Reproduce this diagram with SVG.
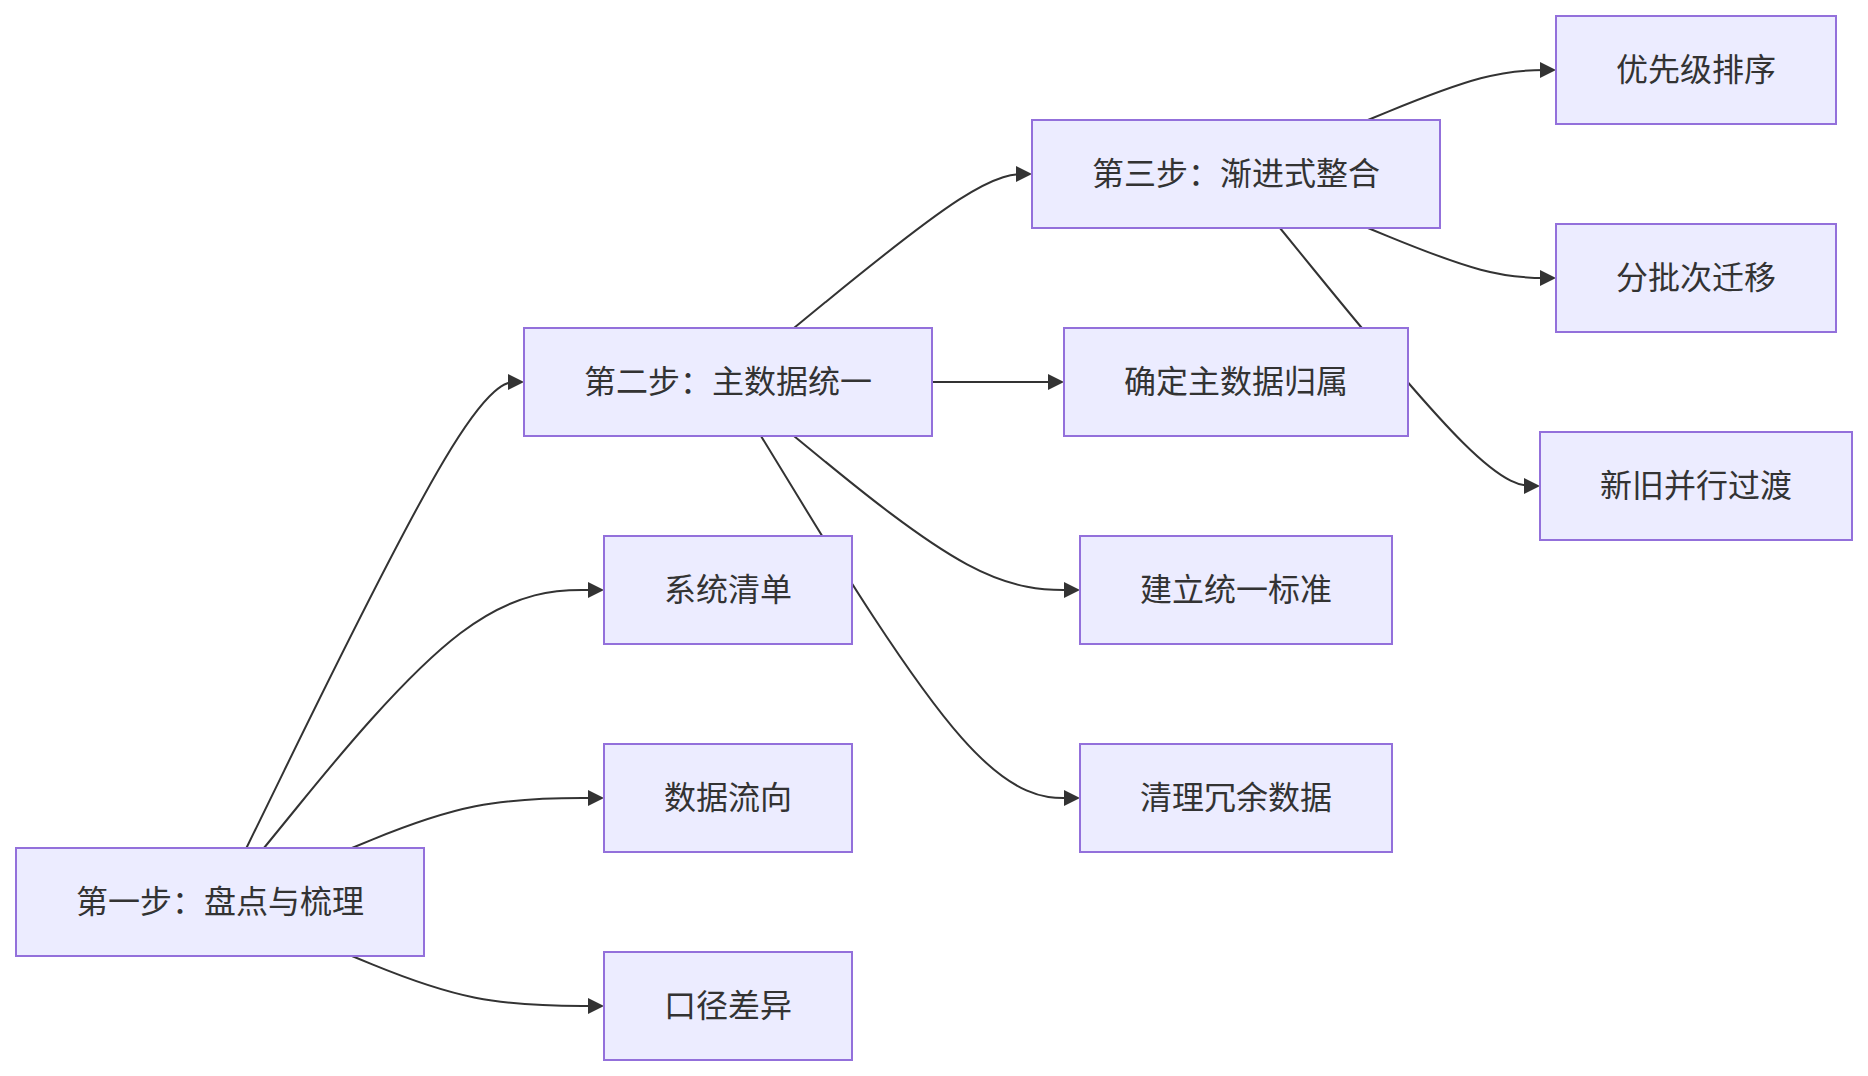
<svg xmlns="http://www.w3.org/2000/svg" width="1868" height="1076" viewBox="0 0 1868 1076">
<style>
.node rect{fill:#ECECFF;stroke:#9370DB;stroke-width:2}
.node text{font-family:"Noto Sans CJK SC","Noto Sans",sans-serif;font-size:32px;fill:#333333;text-anchor:middle;dominant-baseline:central}
.edge{fill:none;stroke:#333333;stroke-width:2}
</style>
<defs>
<marker id="arrow" viewBox="0 0 10 10" refX="8.75" refY="5" markerUnits="userSpaceOnUse" markerWidth="16" markerHeight="16" orient="auto">
<path d="M0,0 L10,5 L0,10 z" fill="#333333"/>
</marker>
</defs>
<rect x="0" y="0" width="1868" height="1076" fill="#ffffff"/>
<g id="connectors">
<path class="edge" marker-end="url(#arrow)" d="M246.4,848 L284.33,770.33 C322.27,692.67 398.13,537.33 444.4,459.67 C490.67,382 507.33,382 515.67,382 L522,382"/>
<path class="edge" marker-end="url(#arrow)" d="M263.96,848 L298.97,805 C333.97,762 403.99,676 460.66,633 C517.33,590 560.67,590 582.33,590 L602,590"/>
<path class="edge" marker-end="url(#arrow)" d="M351.92,848 L372.27,839.67 C392.61,831.33 433.31,814.67 475.32,806.33 C517.33,798 560.67,798 582.33,798 L602,798"/>
<path class="edge" marker-end="url(#arrow)" d="M351.92,956 L372.27,964.33 C392.61,972.67 433.31,989.33 475.32,997.67 C517.33,1006 560.67,1006 582.33,1006 L602,1006"/>
<path class="edge" marker-end="url(#arrow)" d="M793.94,328 L825.28,302.33 C856.63,276.67 919.31,225.33 958.99,199.67 C998.67,174 1015.33,174 1023.67,174 L1030,174"/>
<path class="edge" marker-end="url(#arrow)" d="M932,382 L1062,382"/>
<path class="edge" marker-end="url(#arrow)" d="M793.94,436 L825.28,461.67 C856.63,487.33 919.31,538.67 966.99,564.33 C1014.67,590 1047.33,590 1063.67,590 L1078,590"/>
<path class="edge" marker-end="url(#arrow)" d="M760.97,436 L797.81,496.33 C834.65,556.67 908.32,677.33 961.5,737.67 C1014.67,798 1047.33,798 1063.67,798 L1078,798"/>
<path class="edge" marker-end="url(#arrow)" d="M1367.92,120 L1388.27,111.67 C1408.61,103.33 1449.31,86.67 1480.65,78.33 C1512,70 1534,70 1545,70 L1554,70"/>
<path class="edge" marker-end="url(#arrow)" d="M1367.92,228 L1388.27,236.33 C1408.61,244.67 1449.31,261.33 1480.65,269.67 C1512,278 1534,278 1545,278 L1554,278"/>
<path class="edge" marker-end="url(#arrow)" d="M1279.96,228 L1314.97,271 C1349.97,314 1419.99,400 1463.33,443 C1506.67,486 1523.33,486 1531.67,486 L1538,486"/>
</g>
<g id="step1" class="node"><rect x="16" y="848" width="408" height="108"/><text x="220" y="899">第一步：盘点与梳理</text></g>
<g id="step2" class="node"><rect x="524" y="328" width="408" height="108"/><text x="728" y="379">第二步：主数据统一</text></g>
<g id="step3" class="node"><rect x="1032" y="120" width="408" height="108"/><text x="1236" y="171">第三步：渐进式整合</text></g>
<g id="sysList" class="node"><rect x="604" y="536" width="248" height="108"/><text x="728" y="587">系统清单</text></g>
<g id="dataFlow" class="node"><rect x="604" y="744" width="248" height="108"/><text x="728" y="795">数据流向</text></g>
<g id="metricDiff" class="node"><rect x="604" y="952" width="248" height="108"/><text x="728" y="1003">口径差异</text></g>
<g id="masterOwner" class="node"><rect x="1064" y="328" width="344" height="108"/><text x="1236" y="379">确定主数据归属</text></g>
<g id="standard" class="node"><rect x="1080" y="536" width="312" height="108"/><text x="1236" y="587">建立统一标准</text></g>
<g id="cleanup" class="node"><rect x="1080" y="744" width="312" height="108"/><text x="1236" y="795">清理冗余数据</text></g>
<g id="priority" class="node"><rect x="1556" y="16" width="280" height="108"/><text x="1696" y="67">优先级排序</text></g>
<g id="batch" class="node"><rect x="1556" y="224" width="280" height="108"/><text x="1696" y="275">分批次迁移</text></g>
<g id="parallel" class="node"><rect x="1540" y="432" width="312" height="108"/><text x="1696" y="483">新旧并行过渡</text></g>
</svg>
